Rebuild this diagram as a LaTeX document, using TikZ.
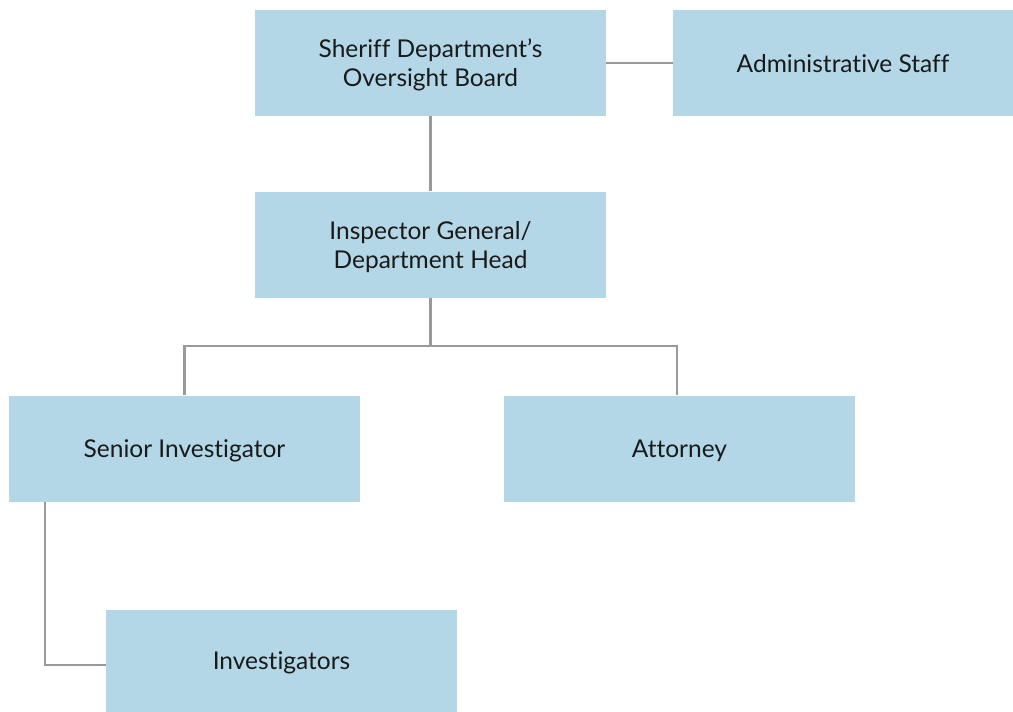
\documentclass[tikz,border=0pt]{standalone}
\usepackage{fontspec}
\setmainfont{Lato}[Ligatures=NoCommon]
\usepackage{xcolor}
\usetikzlibrary{positioning}
\definecolor{boxblue}{HTML}{B3D7E6}
\definecolor{linegray}{HTML}{999999}
\definecolor{textdark}{HTML}{1A1A1A}

\begin{document}
\begin{tikzpicture}[x=1pt,y=-1pt]
  \tikzstyle{unit}=[fill=boxblue,text=textdark,minimum width=351pt,minimum height=106pt,inner sep=0pt,text depth=0pt,align=center,font=\fontsize{24.5}{29}\selectfont]
  \tikzstyle{link}=[linegray,line width=2.5pt]
  \useasboundingbox (0,0) rectangle (1013,712);

  \node[unit] (board) at (430.5,63) {Sheriff Department’s\\Oversight Board};
  \node[unit,minimum width=340pt] (staff) at (843,63) {Administrative Staff};
  \node[unit] (ig) at (430.5,244.5) {Inspector General/\\Department Head};
  \node[unit] (senior) at (184.5,448.5) {Senior Investigator};
  \node[unit] (atty) at (679.5,448.5) {Attorney};
  \node[unit,minimum height=102pt] (invest) at (281.5,661) {Investigators};

  \coordinate (split) at (430.5,346);
  \coordinate (drop) at (677,395);
  \coordinate (bend) at (45,665);

  \draw[link] (board.east) -- (staff.west);
  \draw[link] (board.south) -- (ig.north);
  \draw[link] (ig.south) -- (split);
  \draw[link] (senior.north) |- (split) -| (drop);
  \draw[link] (senior.south -| bend) -- (bend) -- (bend -| invest.west);
\end{tikzpicture}
\end{document}
